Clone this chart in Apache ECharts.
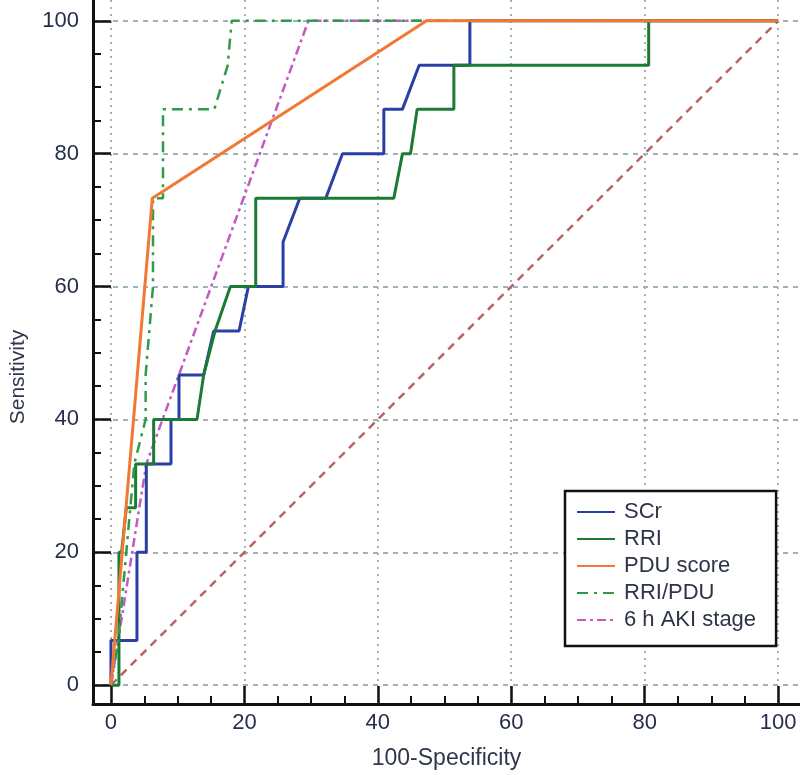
<!DOCTYPE html>
<html>
<head>
<meta charset="utf-8">
<script src="https://cdn.jsdelivr.net/npm/echarts@6/dist/echarts.min.js"></script>
<style>
html,body{margin:0;padding:0;background:#fff;}
#chart{width:800px;height:775px;}
</style>
</head>
<body>
<div id="chart"></div>
<script>
// ---- data (100-Specificity, Sensitivity) ----
const majorTicks = [0, 20, 40, 60, 80, 100];
const minorTicks = [5, 10, 15, 25, 30, 35, 45, 50, 55, 65, 70, 75, 85, 90, 95];

const scrPoints = [[0,0],[0,6.7],[3.9,6.7],[3.9,20],[5.3,20],[5.3,33.3],[9.0,33.3],[9.0,40],[10.2,40],[10.2,46.7],[13.9,46.7],[15.4,53.3],[19.2,53.3],[20.6,60],[25.8,60],[25.8,66.7],[28.3,73.3],[32.2,73.3],[34.7,80],[40.9,80],[40.9,86.7],[43.7,86.7],[46.2,93.3],[53.8,93.3],[53.8,100],[100,100]];
const rriPoints = [[0,0],[1.2,0],[1.2,20],[1.6,20],[2.3,26.7],[3.7,26.7],[3.7,33.3],[6.4,33.3],[6.4,40],[12.9,40],[13.9,46.7],[15.6,53.3],[17.9,60],[21.7,60],[21.7,73.3],[42.4,73.3],[43.7,80],[44.9,80],[45.9,86.7],[51.4,86.7],[51.4,93.3],[80.6,93.3],[80.6,100],[100,100]];
const pduPoints = [[0,0],[6.2,73.3],[47.3,100],[100,100]];
const rriPduPoints = [[0,0],[1.1,6.7],[2.3,20],[3.5,33.3],[5.2,40],[5.2,46.7],[6.3,60],[6.3,73.3],[7.8,73.3],[7.8,86.7],[15.5,86.7],[17.5,93.3],[18.1,100],[100,100]];
const akiPoints = [[0,0],[5.3,33.3],[29.6,100],[100,100]];
const refPoints = [[0,0],[100,100]];

const seriesNames = ['SCr', 'RRI', 'PDU score', 'RRI/PDU', '6 h AKI stage'];

const chart = echarts.init(document.getElementById('chart'), null, {renderer: 'canvas'});

const FONT = '"Liberation Sans", Arial, sans-serif';
const gridColor = '#9fb2ba';
const labelColor = '#262e4c';

function mainAxis(dim, min, max) {
  return {
    type: 'value',
    min: min, max: max,
    position: dim === 'x' ? 'bottom' : 'left',
    axisLine: {show: true, onZero: false, lineStyle: {color: '#111', width: 3}},
    axisTick: {show: true, inside: true, length: 18, lineStyle: {color: '#111', width: 2.5}, customValues: majorTicks},
    axisLabel: {show: true, customValues: majorTicks, fontSize: 22, fontFamily: FONT, color: labelColor, margin: dim === 'x' ? 8 : 14},
    splitLine: {show: true, lineStyle: {color: gridColor, width: 2, type: dim === 'x' ? [2, 5] : [5, 5]}},
    minorTick: {show: false},
    name: dim === 'x' ? '100-Specificity' : 'Sensitivity',
    nameLocation: 'middle',
    nameGap: dim === 'x' ? 43 : 64,
    nameTextStyle: dim === 'x'
      ? {fontSize: 23, fontFamily: FONT, color: '#30374a'}
      : {fontSize: 21, fontFamily: FONT, color: '#30374a', padding: [0, 50, 0, 0]}
  };
}
function minorAxis(dim, min, max) {
  return {
    type: 'value',
    min: min, max: max,
    position: dim === 'x' ? 'bottom' : 'left',
    axisLine: {show: false, onZero: false},
    axisTick: {show: true, inside: true, length: 8, lineStyle: {color: '#111', width: 2}, customValues: minorTicks},
    axisLabel: {show: false},
    splitLine: {show: false}
  };
}

const xMin = -2.69, xMax = 103.28, yMin = -2.84, yMax = 103.13;

function lineSeries(name, data, color, width, type, z) {
  return {
    name: name, type: 'line', data: data,
    xAxisIndex: 0, yAxisIndex: 0,
    showSymbol: false, symbol: 'none',
    lineStyle: {color: color, width: width, type: type},
    itemStyle: {color: color},
    z: z, clip: false
  };
}

chart.setOption({
  animation: false,
  backgroundColor: '#ffffff',
  grid: {left: 90, right: 0, top: 0, bottom: 65, containLabel: false},
  xAxis: [mainAxis('x', xMin, xMax), minorAxis('x', xMin, xMax)],
  yAxis: [mainAxis('y', yMin, yMax), minorAxis('y', yMin, yMax)],
  legend: {
    data: seriesNames,
    orient: 'vertical',
    left: 565, top: 491,
    padding: [10, 20, 15, 11],
    itemGap: 5,
    itemWidth: 38,
    itemHeight: 14,
    backgroundColor: '#fff',
    borderColor: '#111',
    borderWidth: 2.5,
    itemStyle: {opacity: 0},
    textStyle: {fontSize: 22, fontFamily: FONT, color: '#2e3448', lineHeight: 22, padding: [0, 0, 0, 4]}
  },
  series: [
    lineSeries('ref', refPoints, '#b86464', 2.5, [8, 6], 1),
    lineSeries('6 h AKI stage', akiPoints, '#c458c4', 2.5, [9, 4, 3, 4], 2),
    lineSeries('SCr', scrPoints, '#2b3fa6', 3, 'solid', 3),
    lineSeries('RRI', rriPoints, '#1b7a33', 3, 'solid', 4),
    lineSeries('RRI/PDU', rriPduPoints, '#2f9a48', 2.5, [11, 6, 3, 6], 5),
    lineSeries('PDU score', pduPoints, '#f27833', 3, 'solid', 6)
  ]
});
</script>
</body>
</html>
